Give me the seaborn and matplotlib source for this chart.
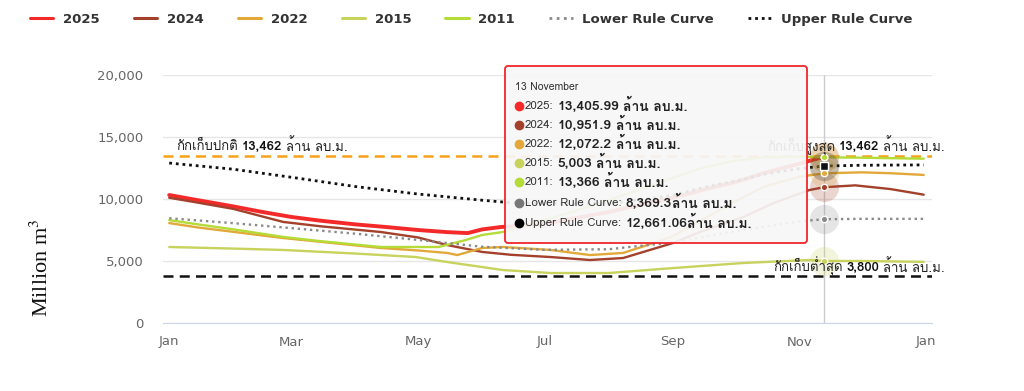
import numpy as np
import pandas as pd
import matplotlib
matplotlib.use('Agg')
import matplotlib.pyplot as plt
import matplotlib.dates as mdates
from matplotlib import font_manager
from matplotlib.ft2font import FT2Font
from matplotlib.patches import FancyBboxPatch
from matplotlib.lines import Line2D
from matplotlib.ticker import FuncFormatter
import seaborn as sns

# ปริมาณน้ำในอ่าง (ล้าน ลบ.ม.) อ่านค่าจากกราฟ
days_2025 = ['01-01', '01-15', '02-01', '02-15', '03-01', '03-15', '04-01', '04-15', '05-01', '05-15',
             '05-25', '06-01', '06-10', '07-01', '07-19', '08-01', '08-20', '09-01', '09-21', '10-01',
             '10-15', '11-01', '11-13']
vals_2025 = [10320, 9900, 9400, 8950, 8550, 8250, 7950, 7750, 7500, 7330,
             7250, 7550, 7740, 8000, 8550, 8950, 9680, 10100, 10970, 11350,
             12100, 12850, 13405.99]

days_2024 = ['01-01', '01-15', '02-01', '02-25', '03-15', '04-13', '05-01', '05-15', '06-01', '06-15',
             '07-04', '07-23', '08-08', '09-01', '09-15', '10-05', '10-20', '11-06', '11-13', '11-28',
             '12-15', '12-31']
vals_2024 = [10100, 9700, 9200, 8150, 7800, 7340, 6900, 6290, 5730, 5500,
             5320, 5080, 5240, 6450, 7400, 8550, 9700, 10730, 10951.9, 11100,
             10800, 10350]

days_2022 = ['01-01', '01-15', '02-01', '02-25', '03-15', '04-13', '05-01', '05-15', '05-20', '06-01',
             '06-11', '07-04', '07-23', '08-08', '08-20', '09-01', '09-15', '10-01', '10-15', '11-01',
             '11-13', '12-01', '12-15', '12-31']
vals_2022 = [8060, 7700, 7350, 6850, 6550, 6050, 5850, 5650, 5480, 6050,
             6130, 5890, 5480, 5650, 6300, 7000, 8300, 9800, 11000, 11800,
             12072.2, 12150, 12080, 11940]

days_2015 = ['01-01', '02-01', '02-25', '04-01', '04-30', '05-15', '06-11', '07-04', '08-01', '09-01',
             '10-05', '11-06', '11-13', '12-01', '12-31']
vals_2015 = [6130, 6000, 5890, 5600, 5320, 4920, 4270, 4030, 4030, 4430,
             4840, 5080, 5003, 5000, 4930]

days_2011 = ['01-01', '01-15', '02-01', '02-25', '03-15', '04-13', '05-11', '05-24', '06-01', '06-11',
             '07-01', '07-15', '08-01', '08-15', '09-01', '09-15', '10-01', '10-15', '11-01', '11-13',
             '12-01', '12-31']
vals_2011 = [8300, 7950, 7550, 6940, 6600, 6130, 6130, 6690, 7100, 7340,
             8300, 9000, 9900, 10700, 11700, 12500, 13100, 13350, 13420, 13366,
             13330, 13250]

days_lower = ['01-01', '02-01', '03-01', '04-01', '05-01', '06-01', '07-01', '08-01', '09-01', '10-01',
              '11-01', '11-13', '12-01', '12-31']
vals_lower = [8450, 8050, 7650, 7200, 6700, 6150, 5900, 5950, 6500, 7400,
              8200, 8369.3, 8400, 8400]

days_upper = ['01-01', '02-01', '03-01', '04-01', '05-01', '06-01', '06-15', '07-01', '08-01', '08-15',
              '09-01', '09-15', '10-01', '10-15', '11-01', '11-13', '12-01', '12-31']
vals_upper = [12900, 12400, 11750, 11000, 10400, 9900, 9700, 9650, 9650, 9900,
              10300, 10900, 11450, 12000, 12450, 12661.06, 12720, 12750]

NORMAL_CAP = 13462
MAX_CAP = 13462
MIN_CAP = 3800
HOVER_DAY = '11-13'
HOVER_TITLE = '13 November'
UNIT = 'ล้าน ลบ.ม.'

series = [
    ('2025', days_2025, vals_2025, '#f42a2a', '-', 2.8),
    ('2024', days_2024, vals_2024, '#a3412c', '-', 1.7),
    ('2022', days_2022, vals_2022, '#e2a93a', '-', 1.7),
    ('2015', days_2015, vals_2015, '#c7d35c', '-', 1.7),
    ('2011', days_2011, vals_2011, '#b4db36', '-', 1.7),
    ('Lower Rule Curve', days_lower, vals_lower, '#8a8a8a', (0, (1, 1.6)), 1.7),
    ('Upper Rule Curve', days_upper, vals_upper, '#111111', (0, (1, 1.4)), 2.0),
]


def to_dates(days):
    return pd.to_datetime(['2025-' + d for d in days])


def find_thai_family():
    # หาฟอนต์ที่มีตัวอักษรไทยในเครื่อง
    for path in sorted(font_manager.findSystemFonts()):
        try:
            f = FT2Font(path)
            if f.get_char_index(0x0E01):
                return font_manager.FontProperties(fname=path).get_name()
        except Exception:
            continue
    return None


sns.set_style('white')
thai = find_thai_family()
FONTS = ([thai] if thai else []) + ['DejaVu Sans', 'Noto Sans', 'Liberation Sans']
plt.rcParams['font.family'] = ['DejaVu Sans'] + ([thai] if thai else [])
plt.rcParams['mathtext.fontset'] = 'stix'

W, H = 1024, 391
fig = plt.figure(figsize=(W / 100, H / 100), dpi=100)
ax = fig.add_axes([163 / W, 1 - 323 / H, (932 - 163) / W, (323 - 75) / H])

handles = []
for name, days, vals, color, ls, lw in series:
    sns.lineplot(x=to_dates(days), y=vals, ax=ax, color=color, linestyle=ls, linewidth=lw,
                 estimator=None, legend=False, zorder=3)
    handles.append(Line2D([], [], color=color, linestyle=ls, linewidth=2.2 if ls == '-' else 2.0))

# เส้นระดับกักเก็บ
ax.axhline(NORMAL_CAP, color='#f7a11a', linestyle=(0, (4, 2.5)), linewidth=1.8, zorder=2)
ax.axhline(MIN_CAP, color='#111111', linestyle=(0, (4, 2.5)), linewidth=1.8, zorder=2)

hover = pd.Timestamp('2025-' + HOVER_DAY)
ax.axvline(hover, color='#cccccc', linewidth=1, zorder=1)

# จุด hover
for name, days, vals, color, ls, lw in series:
    v = vals[days.index(HOVER_DAY)]
    ax.scatter([hover], [v], s=440, color=color, alpha=0.22, linewidths=0, zorder=4, clip_on=False)
    if name == 'Upper Rule Curve':
        ax.scatter([hover], [v], s=28, marker='s', color=color, edgecolors='white', linewidths=1, zorder=6)
    else:
        ax.scatter([hover], [v], s=22, color=color, edgecolors='white', linewidths=1, zorder=6)

ax.set_xlim(pd.Timestamp('2024-12-29'), pd.Timestamp('2026-01-04'))
ax.set_ylim(0, 20000)
ax.set_yticks(np.arange(0, 20001, 5000))
ax.yaxis.set_major_formatter(FuncFormatter(lambda v, p: f'{int(v):,}'))
ax.set_xticks(pd.to_datetime(['2025-01-01', '2025-03-01', '2025-05-01', '2025-07-01',
                              '2025-09-01', '2025-11-01', '2026-01-01']))
ax.xaxis.set_major_formatter(mdates.DateFormatter('%b'))
ax.grid(axis='y', color='#e6e6e6', linewidth=1)
ax.grid(axis='x', visible=False)
for s in ['top', 'right', 'left']:
    ax.spines[s].set_visible(False)
ax.spines['bottom'].set_color('#ccd6eb')
ax.tick_params(axis='x', colors='#ccd6eb', length=7, width=1, direction='out', labelcolor='#666666',
               labelsize=9.5, pad=2)
ax.tick_params(axis='y', length=0, labelcolor='#666666', labelsize=9.5, pad=14)
ax.set_xlabel('')
ax.set_ylabel('')

fig.text(42 / W, 1 - 268 / H, 'Million m$^3$', rotation=90, family='Liberation Serif',
         fontsize=16, ha='center', va='center', color='#111111')

leg = fig.legend(handles, [s[0] for s in series], loc='center left', bbox_to_anchor=(0.029, 0.951),
                 ncol=7, frameon=False, handlelength=1.8, handletextpad=0.7, columnspacing=2.6,
                 borderpad=0, borderaxespad=0, prop={'weight': 'bold', 'size': 9.5})
for t in leg.get_texts():
    t.set_color('#333333')

renderer = fig.canvas.get_renderer()


def put_runs(x_px, y_px, runs, align='left', zorder=3):
    # วางข้อความหลายท่อนต่อกันในแนวนอน (หน่วยพิกเซล)
    texts = []
    for s, gap, kw in runs:
        t = fig.text(0, (H - y_px) / 100, s, transform=fig.dpi_scale_trans, va='center', ha='left',
                     family=FONTS, zorder=zorder, **kw)
        texts.append((t, gap))
    widths = [t.get_window_extent(renderer=renderer).width for t, g in texts]
    total = sum(widths) + sum(g for t, g in texts[:-1])
    x = x_px - total if align == 'right' else x_px
    for (t, gap), w in zip(texts, widths):
        t.set_x(x / 100)
        x += w + gap


ax_left = 163
ax_right = 932
y_norm = H - ax.transData.transform((0, NORMAL_CAP))[1]
y_min = H - ax.transData.transform((0, MIN_CAP))[1]
plain = {'fontsize': 9.5, 'color': '#222222'}
bold = {'fontsize': 9.5, 'color': '#111111', 'weight': 'bold'}
put_runs(ax_left + 13, y_norm - 10, [('กักเก็บปกติ', 4, plain), (f'{NORMAL_CAP:,}', 4, bold), (UNIT, 0, plain)])
put_runs(ax_right + 13, y_norm - 10, [('กักเก็บสูงสุด', 4, plain), (f'{MAX_CAP:,}', 4, bold), (UNIT, 0, plain)],
         align='right')
put_runs(ax_right + 13, y_min - 9, [('กักเก็บต่ำสุด', 4, plain), (f'{MIN_CAP:,}', 4, bold), (UNIT, 0, plain)],
         align='right')

# กล่อง tooltip
box = FancyBboxPatch((505 / 100, (H - 243) / 100), 302 / 100, 177 / 100,
                     boxstyle='round,pad=0,rounding_size=0.03', transform=fig.dpi_scale_trans,
                     facecolor=(0.97, 0.97, 0.97, 0.92), edgecolor='#f0262c', linewidth=1.3, zorder=5)
fig.add_artist(box)
put_runs(515, 87, [(HOVER_TITLE, 0, {'fontsize': 7.5, 'color': '#333333'})], zorder=6)
row_y = [106, 125, 144, 163, 182, 203, 223]
for (name, days, vals, color, ls, lw), ry in zip(series, row_y):
    v = vals[days.index(HOVER_DAY)]
    dot_color = '#777777' if name == 'Lower Rule Curve' else ('#000000' if name == 'Upper Rule Curve' else color)
    fig.add_artist(Line2D([519 / 100], [(H - ry) / 100], marker='o', markersize=6, color=dot_color,
                          linestyle='none', transform=fig.dpi_scale_trans, zorder=6))
    gap = 0 if 'Rule' in name else 4
    put_runs(525, ry, [(name + ':', 4, {'fontsize': 8.3, 'color': '#333333'}),
                       (f'{v:,}', gap, {'fontsize': 10, 'color': '#222222', 'weight': 'bold'}),
                       (UNIT, 0, {'fontsize': 10, 'color': '#222222', 'weight': 'bold'})], zorder=6)

fig.savefig('out.png', dpi=100)
